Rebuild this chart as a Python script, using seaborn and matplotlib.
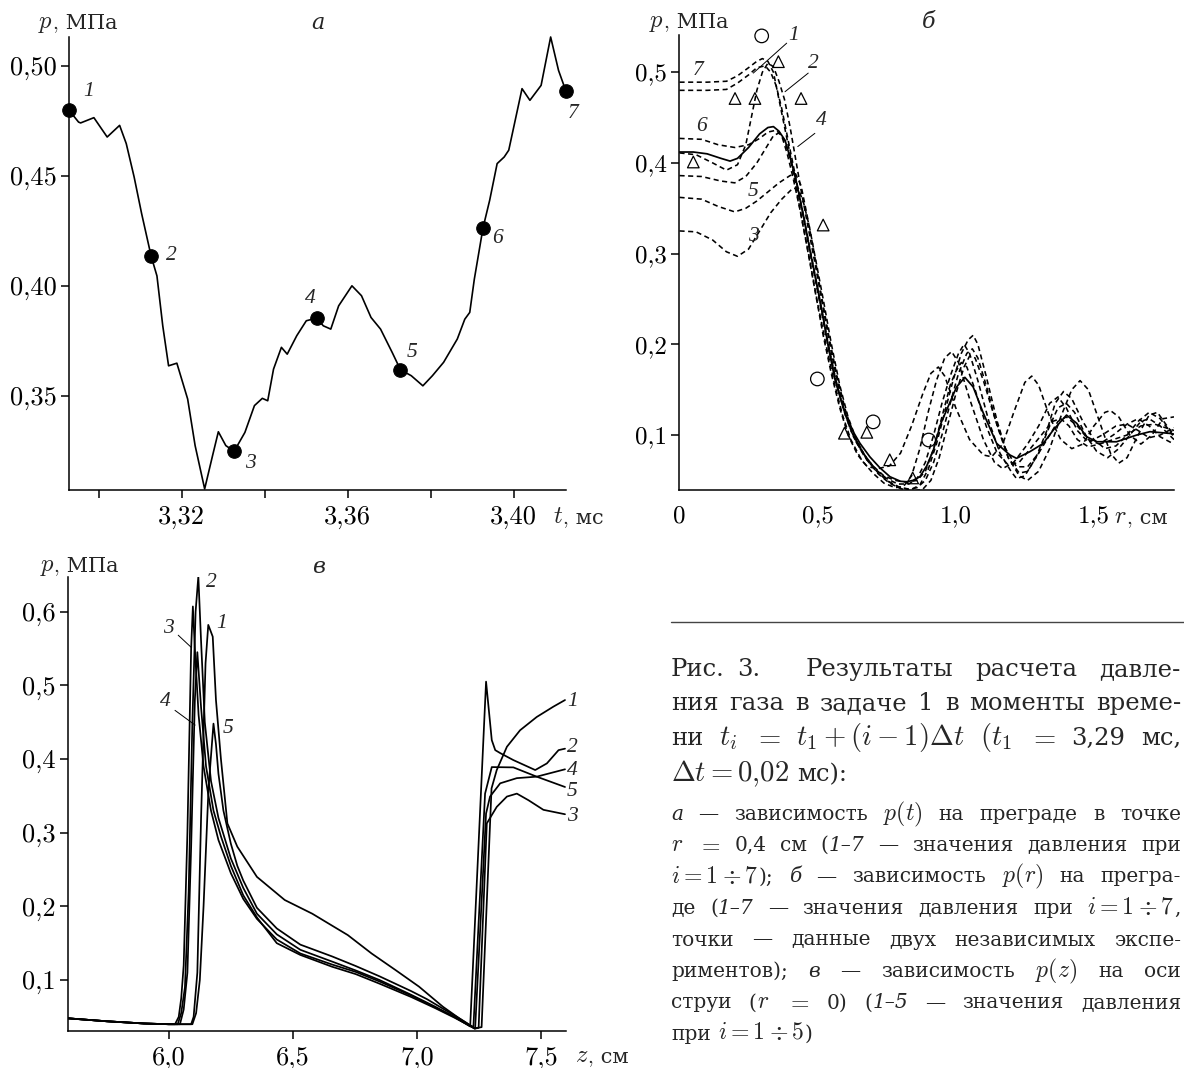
import matplotlib
matplotlib.use("Agg")
import matplotlib.pyplot as plt
from matplotlib.lines import Line2D
import seaborn as sns
import pandas as pd

# ---------------- data: panel а (p(t) at r = 0.4 cm) ----------------
t_a = [3.2928, 3.2951, 3.2956, 3.2988, 3.3020, 3.3050, 3.3066, 3.3085, 3.3103, 3.3126,
       3.3140, 3.3154, 3.3168, 3.3188, 3.3214, 3.3232, 3.3255, 3.3274, 3.3288, 3.3306,
       3.3326, 3.3352, 3.3375, 3.3394, 3.3407, 3.3421, 3.3440, 3.3454, 3.3477, 3.3500,
       3.3525, 3.3541, 3.3559, 3.3578, 3.3610, 3.3633, 3.3656, 3.3679, 3.3707, 3.3727,
       3.3753, 3.3781, 3.3804, 3.3831, 3.3864, 3.3882, 3.3894, 3.3905, 3.3926, 3.3942,
       3.3960, 3.3977, 3.3988, 3.4020, 3.4039, 3.4066, 3.4089, 3.4108, 3.4126]
p_a = [0.4799, 0.4745, 0.4741, 0.4765, 0.4677, 0.4730, 0.4647, 0.4495, 0.4329, 0.4135,
       0.4045, 0.3818, 0.3636, 0.3648, 0.3485, 0.3273, 0.3076, 0.3227, 0.3336, 0.3273,
       0.3247, 0.3333, 0.3455, 0.3488, 0.3477, 0.3621, 0.3720, 0.3689, 0.3773, 0.3841,
       0.3853, 0.3818, 0.3803, 0.3909, 0.4000, 0.3955, 0.3856, 0.3803, 0.3697, 0.3618,
       0.3591, 0.3545, 0.3591, 0.3652, 0.3758, 0.3848, 0.3879, 0.4030, 0.4264, 0.4389,
       0.4556, 0.4586, 0.4617, 0.4897, 0.4844, 0.4912, 0.5132, 0.4980, 0.4885]
t_pts = [3.2928, 3.3126, 3.3326, 3.3525, 3.3727, 3.3926, 3.4126]
p_pts = [0.4799, 0.4135, 0.3247, 0.3853, 0.3618, 0.4264, 0.4885]
pt_names = ["1", "2", "3", "4", "5", "6", "7"]

# ---------------- data: panel б (p(r) on the obstacle) ----------------
r_c1 = [0, .1, .17, .21, .25, .28, .31, .33, .35, .37, .39, .41, .43, .455, .48, .51, .54, .57, .60, .63,
        .67, .71, .75, .79, .83, .86, .89, .92, .95, .98, 1.01, 1.03, 1.05, 1.08, 1.12, 1.16, 1.20, 1.22,
        1.25, 1.29, 1.33, 1.36, 1.39, 1.42, 1.46, 1.50, 1.54, 1.58, 1.62, 1.66, 1.70, 1.74, 1.79]
p_c1 = [.480, .480, .481, .488, .497, .505, .507, .500, .485, .460, .430, .400, .370, .332, .293, .245,
        .198, .155, .122, .098, .076, .062, .052, .046, .046, .052, .070, .100, .135, .165, .190, .200,
        .190, .160, .115, .080, .060, .052, .055, .075, .105, .135, .148, .140, .115, .095, .085, .088,
        .100, .115, .125, .118, .098]
r_c2 = [0, .06, .12, .17, .21, .24, .26, .28, .30, .32, .34, .36, .38, .40, .42, .44, .465, .49, .52, .55,
        .58, .61, .64, .68, .72, .76, .80, .84, .87, .90, .93, .96, .99, 1.02, 1.045, 1.063, 1.08, 1.11,
        1.15, 1.19, 1.23, 1.26, 1.30, 1.34, 1.38, 1.42, 1.45, 1.48, 1.52, 1.56, 1.59, 1.62, 1.66, 1.70,
        1.73, 1.76, 1.79]
p_c2 = [.411, .409, .400, .392, .398, .420, .450, .480, .500, .510, .506, .490, .470, .440, .405, .370,
        .330, .290, .240, .190, .148, .115, .092, .072, .058, .048, .042, .040, .045, .062, .090, .125,
        .160, .190, .205, .210, .200, .165, .115, .075, .055, .050, .060, .085, .120, .150, .160, .150,
        .115, .080, .069, .075, .100, .122, .125, .112, .100]
r_c3 = [0, .06, .12, .17, .21, .25, .29, .33, .37, .41, .43, .45, .47, .495, .52, .55, .58, .61, .64, .68,
        .72, .76, .80, .84, .88, .91, .94, .97, 1.00, 1.03, 1.05, 1.07, 1.10, 1.14, 1.18, 1.22, 1.26,
        1.30, 1.34, 1.37, 1.40, 1.44, 1.48, 1.52, 1.57, 1.62, 1.66, 1.70, 1.74, 1.79]
p_c3 = [.325, .324, .315, .302, .297, .305, .325, .345, .360, .372, .372, .355, .330, .290, .250, .200,
        .155, .120, .095, .072, .057, .047, .041, .038, .040, .050, .075, .110, .145, .175, .187, .185,
        .160, .120, .085, .065, .065, .080, .100, .115, .120, .110, .095, .090, .100, .112, .118, .110,
        .098, .090]
r_c4 = [0, .05, .10, .15, .183, .21, .25, .29, .32, .34, .36, .382, .406, .424, .45, .472, .50, .52, .54,
        .563, .585, .605, .63, .653, .689, .725, .762, .80, .822, .845, .87, .895, .919, .945, .967,
        1.003, 1.033, 1.063, 1.10, 1.148, 1.196, 1.22, 1.268, 1.317, 1.353, 1.401, 1.438, 1.474, 1.51,
        1.582, 1.655, 1.703, 1.775, 1.79]
p_c4 = [.412, .412, .410, .405, .402, .405, .417, .432, .439, .440, .435, .425, .400, .378, .340, .304,
        .262, .230, .195, .161, .138, .120, .103, .091, .076, .064, .054, .049, .0485, .050, .054, .066,
        .0835, .112, .1276, .153, .1636, .153, .124, .0908, .078, .0743, .0816, .0908, .1055, .122,
        .1129, .0981, .0926, .0926, .100, .1037, .1018, .101]
r_c5 = [0, .08, .14, .20, .24, .28, .32, .36, .40, .42, .44, .46, .485, .51, .54, .57, .60, .63, .67, .71,
        .75, .79, .83, .86, .89, .92, .95, .98, 1.01, 1.04, 1.06, 1.08, 1.11, 1.15, 1.19, 1.23, 1.26,
        1.30, 1.34, 1.37, 1.40, 1.43, 1.47, 1.51, 1.55, 1.59, 1.63, 1.67, 1.70, 1.74, 1.79]
p_c5 = [.362, .360, .352, .346, .350, .358, .368, .378, .386, .388, .375, .345, .305, .260, .210, .165,
        .128, .100, .078, .062, .050, .043, .040, .042, .050, .070, .100, .135, .168, .190, .195, .185,
        .155, .110, .075, .058, .060, .080, .110, .130, .135, .125, .100, .082, .075, .085, .100, .115,
        .118, .110, .095]
r_c6 = [0, .08, .14, .20, .25, .29, .32, .35, .37, .39, .41, .435, .46, .49, .52, .55, .58, .61, .645, .68,
        .72, .76, .80, .84, .88, .91, .937, .96, 1.00, 1.05, 1.10, 1.13, 1.17, 1.21, 1.25, 1.275, 1.30,
        1.34, 1.38, 1.42, 1.46, 1.50, 1.54, 1.56, 1.59, 1.63, 1.67, 1.71, 1.75, 1.79]
p_c6 = [.427, .426, .420, .417, .420, .427, .434, .436, .430, .410, .385, .350, .310, .260, .210, .167,
        .130, .100, .078, .065, .063, .066, .080, .110, .145, .168, .175, .165, .130, .095, .078, .076,
        .090, .125, .158, .165, .155, .120, .095, .085, .090, .110, .125, .127, .120, .100, .090, .100,
        .118, .120]
r_c7 = [0, .10, .17, .21, .25, .28, .30, .32, .34, .36, .38, .40, .42, .445, .47, .50, .53, .56, .59, .62,
        .66, .70, .74, .78, .81, .84, .87, .90, .93, .96, .985, 1.01, 1.05, 1.10, 1.14, 1.17, 1.21, 1.26,
        1.30, 1.34, 1.37, 1.40, 1.44, 1.48, 1.53, 1.58, 1.62, 1.66, 1.70, 1.74, 1.79]
p_c7 = [.489, .489, .490, .496, .505, .512, .515, .512, .500, .470, .440, .410, .375, .335, .295, .245,
        .200, .158, .122, .095, .072, .058, .047, .042, .043, .055, .085, .125, .160, .185, .192, .180,
        .140, .095, .070, .063, .070, .090, .110, .135, .142, .130, .105, .092, .100, .110, .112, .105,
        .097, .100, .108]
r_cx = [0, .08, .15, .20, .24, .28, .31, .34, .36, .38, .40, .42, .445, .47, .50, .53, .56, .59, .62, .66,
        .70, .74, .78, .82, .86, .89, .92, .95, .98, 1.00, 1.02, 1.04, 1.07, 1.11, 1.15, 1.19, 1.23,
        1.27, 1.31, 1.35, 1.38, 1.41, 1.44, 1.48, 1.52, 1.57, 1.62, 1.67, 1.72, 1.79]
p_cx = [.386, .385, .380, .378, .385, .400, .415, .430, .433, .425, .405, .380, .345, .305, .258, .210,
        .168, .132, .105, .082, .066, .055, .050, .048, .050, .060, .085, .120, .155, .170, .180, .175,
        .150, .110, .080, .067, .070, .085, .100, .115, .118, .110, .095, .087, .090, .095, .100, .110,
        .112, .105]
circ_r = [0.2975, 0.499, 0.701, 0.902]
circ_p = [0.540, 0.1618, 0.1145, 0.0945]
tri_r = [0.050, 0.201, 0.273, 0.358, 0.440, 0.520, 0.597, 0.678, 0.761, 0.844]
tri_p = [0.401, 0.471, 0.471, 0.5116, 0.471, 0.3315, 0.102, 0.103, 0.0727, 0.0527]

# ---------------- data: panel в (p(z) on the jet axis) ----------------
z_v1 = [5.594, 5.75, 5.90, 6.00, 6.09, 6.10, 6.115, 6.13, 6.148, 6.159, 6.167, 6.177, 6.19, 6.21, 6.236,
        6.276, 6.355, 6.467, 6.578, 6.642, 6.721, 6.817, 6.913, 7.008, 7.104, 7.17, 7.231, 7.26, 7.30,
        7.321, 7.362, 7.415, 7.482, 7.549, 7.596]
p_v1 = [.048, .044, .041, .040, .040, .050, .110, .320, .530, .582, .575, .566, .480, .400, .3126, .281,
        .240, .2086, .190, .177, .161, .136, .1136, .091, .0638, .048, .0345, .036, .360, .385, .4166,
        .439, .457, .471, .480]
z_v2 = [5.594, 5.75, 5.90, 6.00, 6.036, 6.05, 6.065, 6.08, 6.095, 6.108, 6.119, 6.13, 6.145, 6.17, 6.20,
        6.25, 6.30, 6.355, 6.435, 6.53, 6.658, 6.753, 6.849, 6.976, 7.072, 7.15, 7.214, 7.278, 7.301,
        7.315, 7.335, 7.388, 7.476, 7.523, 7.570, 7.596]
p_v2 = [.048, .044, .041, .040, .040, .055, .090, .220, .450, .600, .648, .560, .450, .370, .320, .265,
        .225, .190, .162, .141, .125, .113, .100, .080, .064, .050, .037, .505, .4256, .412, .408, .3985,
        .385, .394, .412, .414]
z_v3 = [5.594, 5.75, 5.90, 6.00, 6.025, 6.04, 6.05, 6.06, 6.075, 6.09, 6.097, 6.105, 6.12, 6.14, 6.17,
        6.20, 6.25, 6.30, 6.355, 6.435, 6.53, 6.658, 6.753, 6.849, 6.976, 7.072, 7.15, 7.232, 7.248,
        7.281, 7.321, 7.362, 7.402, 7.449, 7.509, 7.596]
p_v3 = [.048, .044, .041, .040, .040, .050, .075, .120, .300, .550, .607, .550, .460, .390, .330, .290,
        .245, .210, .183, .155, .136, .121, .111, .098, .079, .063, .050, .034, .035, .3126, .335, .349,
        .353, .344, .331, .325]
z_v4 = [5.594, 5.75, 5.90, 6.00, 6.045, 6.06, 6.075, 6.09, 6.105, 6.115, 6.13, 6.15, 6.18, 6.21, 6.25,
        6.30, 6.355, 6.435, 6.53, 6.658, 6.753, 6.849, 6.976, 7.072, 7.15, 7.234, 7.278, 7.294, 7.335,
        7.402, 7.482, 7.596]
p_v4 = [.048, .044, .041, .040, .040, .060, .110, .280, .480, .545, .470, .390, .330, .295, .255, .215,
        .185, .150, .134, .118, .108, .095, .077, .062, .049, .034, .326, .349, .367, .374, .376, .386]
z_v5 = [5.594, 5.75, 5.90, 6.00, 6.095, 6.11, 6.125, 6.14, 6.16, 6.18, 6.19, 6.20, 6.22, 6.25, 6.276,
        6.30, 6.355, 6.435, 6.53, 6.658, 6.753, 6.849, 6.976, 7.04, 7.10, 7.17, 7.227, 7.274, 7.301,
        7.388, 7.482, 7.596]
p_v5 = [.048, .044, .041, .040, .040, .055, .100, .200, .360, .448, .420, .380, .330, .285, .255, .235,
        .198, .170, .148, .132, .119, .105, .085, .074, .062, .048, .036, .353, .389, .3886, .376, .362]

# ---------------- tick labels / texts ----------------
a_xticks = [3.30, 3.32, 3.34, 3.36, 3.38, 3.40]
a_xlabels = ["", "3,32", "", "3,36", "", "3,40"]
a_yticks = [0.35, 0.40, 0.45, 0.50]
a_ylabels = ["0,35", "0,40", "0,45", "0,50"]
b_xticks = [0, 0.5, 1.0, 1.5]
b_xlabels = ["0", "0,5", "1,0", "1,5"]
b_yticks = [0.1, 0.2, 0.3, 0.4, 0.5]
b_ylabels = ["0,1", "0,2", "0,3", "0,4", "0,5"]
c_xticks = [6.0, 6.5, 7.0, 7.5]
c_xlabels = ["6,0", "6,5", "7,0", "7,5"]
c_yticks = [0.1, 0.2, 0.3, 0.4, 0.5, 0.6]
c_ylabels = ["0,1", "0,2", "0,3", "0,4", "0,5", "0,6"]

caption_big = [
    ["ния", "газа", "в", "задаче", "1", "в", "моменты", "време-"],
    ["ни", r"$t_i$", "$=$", r"$t_1+(i-1)\Delta t$", r"$(t_1$", "$=$", "3,29", "мс,"],
]
caption_small = [
    ["~а", "—", "зависимость", "$p(t)$", "на", "преграде", "в", "точке"],
    ["$r$", "$=$", "0,4", "см", ("(", "~1–7"), "—", "значения", "давления", "при"],
    [(r"$i=1\div7$", ");"), "~б", "—", "зависимость", "$p(r)$", "на", "прегра-"],
    ["де", ("(", "~1–7"), "—", "значения", "давления", "при", (r"$i=1\div7$", ",")],
    ["точки", "—", "данные", "двух", "независимых", "экспе-"],
    ["риментов);", "~в", "—", "зависимость", "$p(z)$", "на", "оси"],
    ["струи", ("(", "$r$"), "$=$", "0)", ("(", "~1–5"), "—", "значения", "давления"],
]

# ---------------- style ----------------
sns.set_style("ticks")
ROMAN = ["cmr10", "DejaVu Serif"]
CAPFONT = ["DejaVu Serif"]
plt.rcParams.update({
    "font.family": ROMAN,
    "mathtext.fontset": "cm",
    "axes.formatter.use_mathtext": True,
    "axes.edgecolor": "black",
    "axes.linewidth": 1.1,
    "xtick.color": "black", "ytick.color": "black",
    "xtick.major.width": 1.1, "ytick.major.width": 1.1,
    "xtick.major.size": 5.8, "ytick.major.size": 5.8,
    "xtick.direction": "out", "ytick.direction": "out",
})

W, H = 1184, 1068
fig = plt.figure(figsize=(W / 100, H / 100), dpi=100)
fig.patch.set_facecolor("white")


def px_axes(l, t, r, b):
    return fig.add_axes([l / W, 1 - b / H, (r - l) / W, (b - t) / H])


def style_ax(ax, xt, xl, yt, yl, xlen=5.8, xpad=5.0, size=19):
    for s in ("top", "right"):
        ax.spines[s].set_visible(False)
    ax.patch.set_alpha(0)
    ax.set_xticks(xt)
    ax.set_xticklabels(xl)
    ax.set_yticks(yt)
    ax.set_yticklabels(yl)
    ax.tick_params(axis="x", labelsize=size, length=xlen, pad=xpad)
    ax.tick_params(axis="y", labelsize=size, pad=3)
    ax.set_xlabel("")
    ax.set_ylabel("")


LBL = dict(family="Liberation Serif", style="italic", fontsize=15.5, ha="center", va="center")

# ---------------- panel а ----------------
axA = px_axes(69, 37, 566, 490)
dfa = pd.DataFrame({"t": t_a, "p": p_a})
sns.lineplot(data=dfa, x="t", y="p", ax=axA, color="black", lw=1.2, estimator=None, sort=False)
for ln in axA.lines:
    ln.set_clip_on(False)
    ln.set_solid_joinstyle("round")
sns.scatterplot(x=t_pts, y=p_pts, ax=axA, color="black", s=95, edgecolor="black", zorder=4, clip_on=False)
axA.set_xlim(3.2928, 3.4126)
axA.set_ylim(0.3071, 0.5132)
style_ax(axA, a_xticks, a_xlabels, a_yticks, a_ylabels)
lab_a = [(3.2976, 0.4882), (3.3174, 0.4140), (3.3366, 0.3193), (3.3510, 0.3943),
         (3.3754, 0.3695), (3.3960, 0.4215), (3.4142, 0.4784)]
for name, (x, y) in zip(pt_names, lab_a):
    axA.text(x, y, name, clip_on=False, **LBL)

# ---------------- panel б ----------------
axB = px_axes(679.5, 35, 1174, 490)
curves_b = [("7", r_c7, p_c7, False), ("1", r_c1, p_c1, False), ("2", r_c2, p_c2, False),
            ("6", r_c6, p_c6, False), ("x", r_cx, p_cx, False), ("5", r_c5, p_c5, False),
            ("3", r_c3, p_c3, False), ("4", r_c4, p_c4, True)]
for name, rr, pp, solid in curves_b:
    d = pd.DataFrame({"r": rr, "p": pp})
    n0 = len(axB.lines)
    sns.lineplot(data=d, x="r", y="p", ax=axB, color="black", lw=1.25 if solid else 1.15,
                 estimator=None, sort=False)
    for ln in axB.lines[n0:]:
        if not solid:
            ln.set_dashes((3.2, 2.2))
sns.scatterplot(x=circ_r, y=circ_p, ax=axB, marker="o", s=95, zorder=4, clip_on=False)
c = axB.collections[-1]
c.set_facecolor("none"); c.set_edgecolor("black"); c.set_linewidth(0.9)
sns.scatterplot(x=tri_r, y=tri_p, ax=axB, marker="^", s=70, zorder=4, clip_on=False)
c = axB.collections[-1]
c.set_facecolor("none"); c.set_edgecolor("black"); c.set_linewidth(0.9)
axB.set_xlim(0, 1.79)
axB.set_ylim(0.0394, 0.541)
style_ax(axB, b_xticks, b_xlabels, b_yticks, b_ylabels, xlen=0, xpad=11, size=18)
lab_b = {"7": (0.068, 0.502), "6": (0.080, 0.440), "5": (0.267, 0.368), "3": (0.268, 0.3186),
         "1": (0.414, 0.541), "2": (0.484, 0.510), "4": (0.515, 0.447)}
for name, (x, y) in lab_b.items():
    axB.text(x, y, name, clip_on=False, **LBL)
leaders_b = [((0.388, 0.532), (0.267, 0.499)), ((0.466, 0.499), (0.382, 0.4785)),
             ((0.490, 0.4326), (0.428, 0.418))]
for (x0, y0), (x1, y1) in leaders_b:
    axB.plot([x0, x1], [y0, y1], color="black", lw=0.7, clip_on=False)

# ---------------- panel в ----------------
axC = px_axes(68, 577, 566, 1031)
curves_c = [("1", z_v1, p_v1), ("2", z_v2, p_v2), ("3", z_v3, p_v3), ("4", z_v4, p_v4), ("5", z_v5, p_v5)]
for name, zz, pp in curves_c:
    d = pd.DataFrame({"z": zz, "p": pp})
    sns.lineplot(data=d, x="z", y="p", ax=axC, color="black", lw=1.25, estimator=None, sort=False)
for ln in axC.lines:
    ln.set_solid_joinstyle("round")
axC.set_xlim(5.594, 7.6)
axC.set_ylim(0.0308, 0.647)
style_ax(axC, c_xticks, c_xlabels, c_yticks, c_ylabels)
lab_c = {"2": (6.173, 0.640), "1": (6.213, 0.584), "3": (5.998, 0.577), "4": (5.985, 0.478),
         "5": (6.240, 0.4415)}
for name, (x, y) in lab_c.items():
    axC.text(x, y, name, clip_on=False, **LBL)
for (x0, y0), (x1, y1) in [((6.038, 0.568), (6.092, 0.551)), ((6.025, 0.466), (6.106, 0.446))]:
    axC.plot([x0, x1], [y0, y1], color="black", lw=0.7)
lab_c_right = {"1": 0.478, "2": 0.416, "4": 0.385, "5": 0.3555, "3": 0.3216}
for name, y in lab_c_right.items():
    axC.text(7.604, y, name, clip_on=False, family="Liberation Serif", style="italic",
             fontsize=15.5, ha="left", va="center")

# ---------------- text helpers (pixel coordinates) ----------------
renderer = fig.canvas.get_renderer()
MATH_SCALE = 1.18


def make_seg(s, size, roman):
    kw = dict(va="baseline", ha="left")
    if s.startswith("~"):
        return fig.text(0, 0, s[1:], family="DejaVu Serif", style="italic", fontsize=size, **kw)
    if s.startswith("$"):
        return fig.text(0, 0, s, fontsize=size * MATH_SCALE, **kw)
    return fig.text(0, 0, s, family=roman, fontsize=size, **kw)


def build_word(w, size, roman):
    segs = [w] if isinstance(w, str) else list(w)
    arts = [make_seg(s, size, roman) for s in segs]
    widths = [a.get_window_extent(renderer).width for a in arts]
    return arts, widths


def place(arts, widths, x, y):
    for a, wd in zip(arts, widths):
        a.set_position((x / W, 1 - y / H))
        x += wd
    return x


def text_line(words, y, size, x0=671, x1=1181, justify=True, space=7, roman=CAPFONT):
    built = [build_word(w, size, roman) for w in words]
    total = sum(sum(b[1]) for b in built)
    gap = (x1 - x0 - total) / (len(built) - 1) if (justify and len(built) > 1) else space
    x = x0
    for arts, widths in built:
        x = place(arts, widths, x, y) + gap
    return x - gap


# axis labels
text_line([("$p$", ", МПа")], 28, 15, x0=38, justify=False, roman=ROMAN)
text_line([("$p$", ", МПа")], 27, 15, x0=649, justify=False, roman=ROMAN)
text_line([("$p$", ", МПа")], 571, 15, x0=39.5, justify=False, roman=ROMAN)
text_line([("$t$", ", мс")], 523, 15, x0=553, justify=False, roman=ROMAN)
text_line([("$r$", ", см")], 523, 15, x0=1114, justify=False, roman=ROMAN)
text_line([("$z$", ", см")], 1062, 15, x0=575, justify=False, roman=ROMAN)

# panel letters
for s, (x, y) in [("а", (317.6, 23.3)), ("б", (928.6, 21.7)), ("в", (318.2, 566.7))]:
    fig.text(x / W, 1 - y / H, s, family="DejaVu Serif", style="italic", fontsize=16,
             ha="center", va="center")

# caption
fig.add_artist(Line2D([671 / W, 1.0], [1 - 622 / H, 1 - 622 / H], color="#444444", lw=1.0))
BIG, SMALL = 17.5, 14.5
xe = text_line(["Рис."], 676, BIG, x0=671, justify=False)
text_line(["3."], 676, BIG, x0=xe + 12, justify=False)
text_line(["Результаты", "расчета", "давле-"], 676, BIG, x0=805.6)
text_line(caption_big[0], 710, BIG)
text_line(caption_big[1], 745, BIG)
text_line([r"$\Delta t=0{,}02$", "мс):"], 781, BIG, justify=False, space=8)
ys = [820, 851, 882.5, 914, 945.5, 977, 1008.5]
for words, y in zip(caption_small, ys):
    text_line(words, y, SMALL)
text_line(["при", (r"$i=1\div5$", ")")], 1039.5, SMALL, justify=False, space=7)

fig.savefig("out.png", dpi=100, facecolor="white")
